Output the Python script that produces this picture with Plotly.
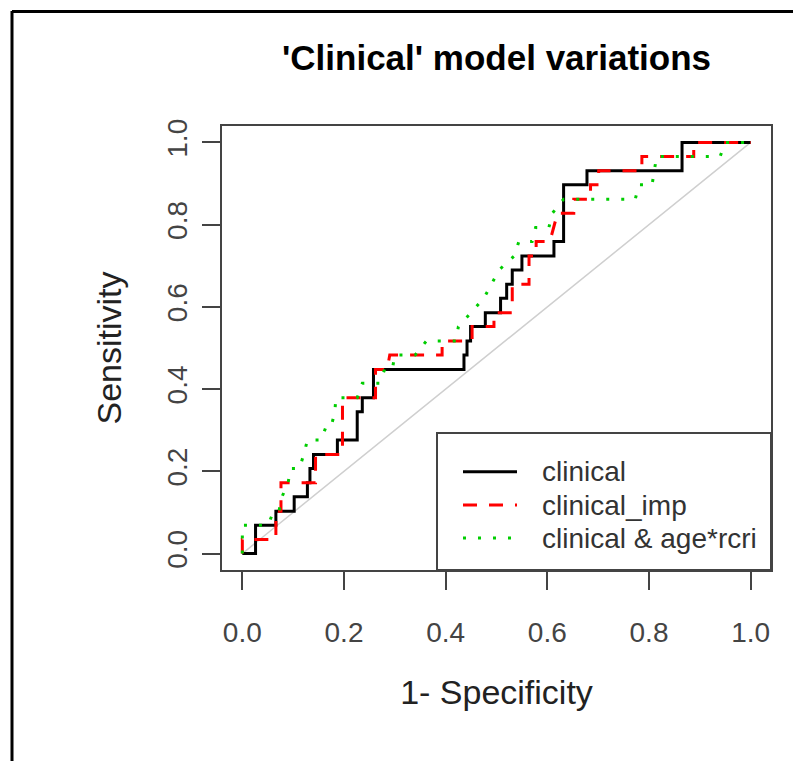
import plotly.graph_objects as go

# ---- data (1 - specificity, sensitivity) ----
clinical_fpr = [0, 0.026, 0.026, 0.066, 0.066, 0.102, 0.102, 0.128, 0.128, 0.133, 0.133, 0.140, 0.140,
                0.187, 0.187, 0.226, 0.226, 0.236, 0.236, 0.258, 0.258, 0.436, 0.436, 0.442, 0.442,
                0.449, 0.449, 0.478, 0.478, 0.508, 0.508, 0.520, 0.520, 0.531, 0.531, 0.550, 0.550,
                0.613, 0.613, 0.632, 0.632, 0.678, 0.678, 0.865, 0.865, 1.0]
clinical_sens = [0, 0, 0.069, 0.069, 0.103, 0.103, 0.138, 0.138, 0.172, 0.172, 0.207, 0.207, 0.241,
                 0.241, 0.276, 0.276, 0.345, 0.345, 0.379, 0.379, 0.448, 0.448, 0.483, 0.483, 0.517,
                 0.517, 0.552, 0.552, 0.586, 0.586, 0.621, 0.621, 0.655, 0.655, 0.690, 0.690, 0.724,
                 0.724, 0.759, 0.759, 0.897, 0.897, 0.931, 0.931, 1.0, 1.0]

imp_fpr = [0, 0, 0.066, 0.066, 0.076, 0.076, 0.144, 0.144, 0.197, 0.197, 0.262, 0.262, 0.285, 0.290,
           0.393, 0.393, 0.452, 0.452, 0.495, 0.495, 0.531, 0.531, 0.564, 0.564, 0.578, 0.578, 0.605,
           0.620, 0.652, 0.652, 0.685, 0.685, 0.701, 0.701, 0.786, 0.786, 0.888, 0.888, 1.0]
imp_sens = [0, 0.034, 0.034, 0.103, 0.103, 0.172, 0.172, 0.241, 0.241, 0.379, 0.379, 0.448, 0.448,
            0.483, 0.483, 0.517, 0.517, 0.552, 0.552, 0.586, 0.586, 0.655, 0.655, 0.724, 0.724, 0.759,
            0.759, 0.828, 0.828, 0.862, 0.862, 0.897, 0.897, 0.931, 0.931, 0.966, 0.966, 1.0, 1.0]

age_fpr = [0, 0, 0.050, 0.062, 0.072, 0.078, 0.090, 0.095, 0.112, 0.121, 0.128, 0.155, 0.165, 0.175,
           0.182, 0.184, 0.226, 0.236, 0.270, 0.280, 0.295, 0.300, 0.340, 0.362, 0.420, 0.425, 0.450,
           0.475, 0.490, 0.505, 0.535, 0.544, 0.570, 0.577, 0.603, 0.610, 0.632, 0.773, 0.780, 0.806,
           0.815, 0.940, 0.950, 1.0]
age_sens = [0, 0.069, 0.069, 0.103, 0.103, 0.138, 0.172, 0.207, 0.207, 0.241, 0.276, 0.276, 0.310,
            0.310, 0.345, 0.379, 0.379, 0.414, 0.414, 0.448, 0.448, 0.483, 0.483, 0.517, 0.517, 0.552,
            0.586, 0.621, 0.655, 0.690, 0.724, 0.759, 0.759, 0.793, 0.793, 0.828, 0.862, 0.862, 0.897,
            0.897, 0.966, 0.966, 1.0, 1.0]

diag_x = [0, 1]
diag_y = [0, 1]

series_names = ["clinical", "clinical_imp", "clinical & age*rcri"]
tick_vals = [0.0, 0.2, 0.4, 0.6, 0.8, 1.0]
tick_text = ["0.0", "0.2", "0.4", "0.6", "0.8", "1.0"]

# ---- styling ----
FONT = "Liberation Sans, Arial, Helvetica, sans-serif"
W, H = 793, 761
L, R, T, B = 222, 771, 126, 570  # plot box in pixels
colors = ["#000000", "#FF0000", "#00CD00"]
dashes = ["solid", "14px,12px", "3px,12px"]


def px_x(px):
    return (px - L) / (R - L)


def px_y(py):
    return (B - py) / (B - T)


fig = go.Figure()
fig.add_trace(go.Scatter(x=diag_x, y=diag_y, mode="lines",
                         line=dict(color="#CFCFCF", width=1.5), showlegend=False, hoverinfo="skip"))
for fx, sy, c, d, n in [(clinical_fpr, clinical_sens, colors[0], dashes[0], series_names[0]),
                        (imp_fpr, imp_sens, colors[1], dashes[1], series_names[1]),
                        (age_fpr, age_sens, colors[2], dashes[2], series_names[2])]:
    fig.add_trace(go.Scatter(x=fx, y=sy, mode="lines", name=n,
                             line=dict(color=c, width=3, dash=d), showlegend=False))

shapes = []
# legend box (manual, R style)
shapes.append(dict(type="rect", xref="paper", yref="paper",
                   x0=px_x(437), x1=px_x(771), y0=px_y(570), y1=px_y(433),
                   line=dict(color="#444444", width=2), fillcolor="white", layer="above"))
row_y = [471.7, 505.0, 538.0]
annotations = []
for i in range(3):
    shapes.append(dict(type="line", xref="paper", yref="paper",
                       x0=px_x(463), x1=px_x(517), y0=px_y(row_y[i]), y1=px_y(row_y[i]),
                       line=dict(color=colors[i], width=3, dash=dashes[i]), layer="above"))
    annotations.append(dict(xref="paper", yref="paper", x=px_x(540), y=px_y(row_y[i]),
                            text=series_names[i], showarrow=False, xanchor="left", yanchor="middle",
                            font=dict(family=FONT, size=28, color="#333333")))
# outer frame (top and left edges visible)
shapes.append(dict(type="line", xref="paper", yref="paper",
                   x0=px_x(12), x1=px_x(12), y0=px_y(11), y1=px_y(765),
                   line=dict(color="black", width=3)))
shapes.append(dict(type="line", xref="paper", yref="paper",
                   x0=px_x(12), x1=px_x(800), y0=px_y(11.5), y1=px_y(11.5),
                   line=dict(color="black", width=3)))

axis_common = dict(range=[-0.04, 1.04], tickvals=tick_vals, ticktext=tick_text,
                   showgrid=False, zeroline=False, showline=True, mirror=True,
                   linecolor="#444444", linewidth=2, ticks="outside", ticklen=18,
                   tickwidth=2, tickcolor="#444444",
                   tickfont=dict(family=FONT, size=28, color="#444444"))

fig.update_layout(
    width=W, height=H,
    margin=dict(l=L, r=W - R, t=T, b=H - B, autoexpand=False),
    paper_bgcolor="white", plot_bgcolor="white",
    title=dict(text="<b>'Clinical' model variations</b>", x=(L + R) / 2 / W, xanchor="center",
               y=1 - 58 / H, yanchor="middle", font=dict(family=FONT, size=35, color="black")),
    xaxis=dict(**axis_common, ticklabelstandoff=18,
               title=dict(text="1- Specificity", standoff=34,
                          font=dict(family=FONT, size=34, color="#222222"))),
    yaxis=dict(**axis_common, tickangle=-90, ticklabelstandoff=4,
               title=dict(text="Sensitivity", standoff=30,
                          font=dict(family=FONT, size=34, color="#222222"))),
    shapes=shapes, annotations=annotations, showlegend=False,
)

fig.write_html("out.html")
